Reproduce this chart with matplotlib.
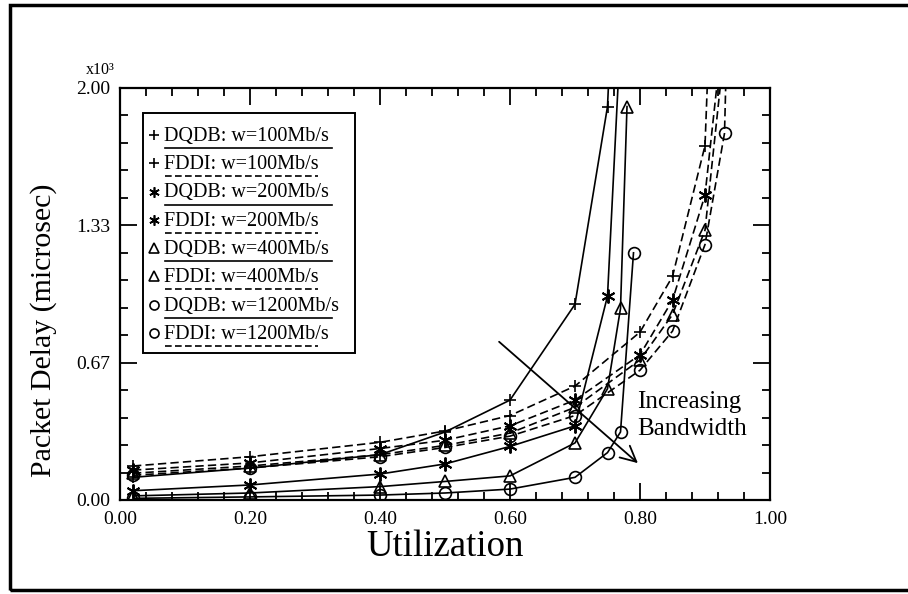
import matplotlib
matplotlib.use("Agg")
import matplotlib.pyplot as plt
from matplotlib.lines import Line2D
from matplotlib.patches import Rectangle
from matplotlib.ticker import MultipleLocator, FixedLocator

plt.rcParams['font.family'] = ['Liberation Serif', 'DejaVu Serif']

# ---- data (delay in units of 10^3 microsec) ----
dqdb100_x = [0.02, 0.2, 0.4, 0.5, 0.6, 0.7, 0.75, 0.76]
dqdb100_y = [0.11, 0.155, 0.22, 0.33, 0.485, 0.95, 1.91, 2.6]
dqdb200_x = [0.02, 0.2, 0.4, 0.5, 0.6, 0.7, 0.75, 0.77]
dqdb200_y = [0.045, 0.073, 0.126, 0.175, 0.26, 0.36, 0.99, 2.25]
dqdb400_x = [0.02, 0.2, 0.4, 0.5, 0.6, 0.7, 0.75, 0.77, 0.78]
dqdb400_y = [0.02, 0.034, 0.065, 0.09, 0.117, 0.277, 0.54, 0.93, 1.91]
dqdb1200_x = [0.02, 0.2, 0.4, 0.5, 0.6, 0.7, 0.75, 0.77, 0.79]
dqdb1200_y = [0.008, 0.015, 0.024, 0.034, 0.053, 0.11, 0.23, 0.33, 1.20]

fddi100_x = [0.02, 0.2, 0.4, 0.5, 0.6, 0.7, 0.8, 0.85, 0.9, 0.91]
fddi100_y = [0.165, 0.21, 0.28, 0.335, 0.41, 0.553, 0.815, 1.085, 1.72, 2.55]
fddi200_x = [0.02, 0.2, 0.4, 0.5, 0.6, 0.7, 0.8, 0.85, 0.9, 0.93]
fddi200_y = [0.145, 0.18, 0.25, 0.29, 0.36, 0.485, 0.705, 0.97, 1.48, 2.35]
fddi400_x = [0.02, 0.2, 0.4, 0.5, 0.6, 0.7, 0.8, 0.85, 0.9, 0.93]
fddi400_y = [0.13, 0.165, 0.22, 0.265, 0.325, 0.45, 0.68, 0.90, 1.31, 2.2]
fddi1200_x = [0.02, 0.2, 0.4, 0.5, 0.6, 0.7, 0.8, 0.85, 0.9, 0.93, 0.935]
fddi1200_y = [0.12, 0.155, 0.21, 0.255, 0.31, 0.41, 0.63, 0.82, 1.24, 1.78, 2.4]

labels = ["DQDB: w=100Mb/s", "FDDI: w=100Mb/s",
          "DQDB: w=200Mb/s", "FDDI: w=200Mb/s",
          "DQDB: w=400Mb/s", "FDDI: w=400Mb/s",
          "DQDB: w=1200Mb/s", "FDDI: w=1200Mb/s"]
xticks = [0.0, 0.2, 0.4, 0.6, 0.8, 1.0]
yticks = [0.0, 2/3, 4/3, 2.0]
ytick_labels = ["0.00", "0.67", "1.33", "2.00"]

star = (6, 2, 0)
series = [
    (dqdb100_x, dqdb100_y, '+', '-'),
    (fddi100_x, fddi100_y, '+', '--'),
    (dqdb200_x, dqdb200_y, star, '-'),
    (fddi200_x, fddi200_y, star, '--'),
    (dqdb400_x, dqdb400_y, '^', '-'),
    (fddi400_x, fddi400_y, '^', '--'),
    (dqdb1200_x, dqdb1200_y, 'o', '-'),
    (fddi1200_x, fddi1200_y, 'o', '--'),
]

fig = plt.figure(figsize=(9.08, 5.94), dpi=100)
ax = fig.add_axes([120/908, 1 - 500/594, 650/908, 412/594])

for xs, ys, mk, ls in series:
    ms = 10 if mk == star else 8.5
    ax.plot(xs, ys, color='black', lw=1.2, linestyle=ls, dashes=(5, 2.5) if ls == '--' else (None, None),
            marker=mk, markersize=ms, markerfacecolor='none', markeredgecolor='black',
            markeredgewidth=1.4 if mk == star else 1.2)

ax.set_xlim(0, 1)
ax.set_ylim(0, 2)
ax.xaxis.set_major_locator(FixedLocator(xticks))
ax.xaxis.set_minor_locator(MultipleLocator(0.04))
ax.yaxis.set_major_locator(FixedLocator(yticks))
ax.yaxis.set_minor_locator(MultipleLocator(2/15))
ax.set_xticklabels(["%.2f" % v for v in xticks], fontsize=14)
ax.set_yticklabels(ytick_labels, fontsize=14)
ax.tick_params(which='both', direction='in', top=True, right=True, width=1.3)
ax.tick_params(which='major', length=12)
ax.tick_params(which='minor', length=6)
ax.tick_params(axis='x', pad=8)
ax.tick_params(axis='y', pad=7)
for s in ax.spines.values():
    s.set_linewidth(1.6)

ax.set_xlabel("Utilization", fontsize=26.5, labelpad=1)
fig.text(44/908, 1 - 330/594, "Packet Delay (microsec)", rotation=90, fontsize=21.5,
         ha='center', va='center')
fig.text(100/908, 1 - 70/594, "x10\u00b3", fontsize=11.5, ha='center', va='center')

# arrow and note
ax.annotate('', xy=(0.80, 0.17), xytext=(0.58, 0.777),
            arrowprops=dict(arrowstyle='->', lw=1.3, color='black', mutation_scale=28))
ax.text(0.795, 0.41, "Increasing\nBandwidth", fontsize=18, ha='left', va='center',
        linespacing=1.3)

# hand-made legend box in axes fraction
def fy(py):
    return (500 - py) / 412.0

def fx(px):
    return (px - 120) / 650.0

ax.add_patch(Rectangle((fx(143), fy(353)), fx(355) - fx(143), fy(113) - fy(353),
                       transform=ax.transAxes, fill=True, facecolor='white',
                       edgecolor='black', lw=1.4, zorder=5))
for i, (lab, (xs, ys, mk, ls)) in enumerate(zip(labels, series)):
    base = 141 + 28.25 * i
    ax.plot([fx(154)], [fy(base - 6)], transform=ax.transAxes, marker=mk,
            markersize=7.5 if mk == star else 6.5,
            markerfacecolor='none', markeredgecolor='black', markeredgewidth=1.2,
            zorder=6, clip_on=False)
    ax.text(fx(164), fy(base), lab, transform=ax.transAxes, fontsize=14.5,
            ha='left', va='baseline', zorder=6)
    x_end = fx(332) if ls == '-' else fx(318)
    ax.add_line(Line2D([fx(165), x_end], [fy(base + 7), fy(base + 7)],
                       transform=ax.transAxes, color='black', lw=1.2,
                       linestyle=ls, dashes=(4, 2) if ls == '--' else (None, None),
                       zorder=6, clip_on=False))

# frame around the figure (right side falls outside the image)
fig.add_artist(Rectangle((10/908, 1 - 590/594), 1.2, 585/594, transform=fig.transFigure,
                         fill=False, edgecolor='black', lw=2.5))

fig.savefig("out.png", dpi=100)
